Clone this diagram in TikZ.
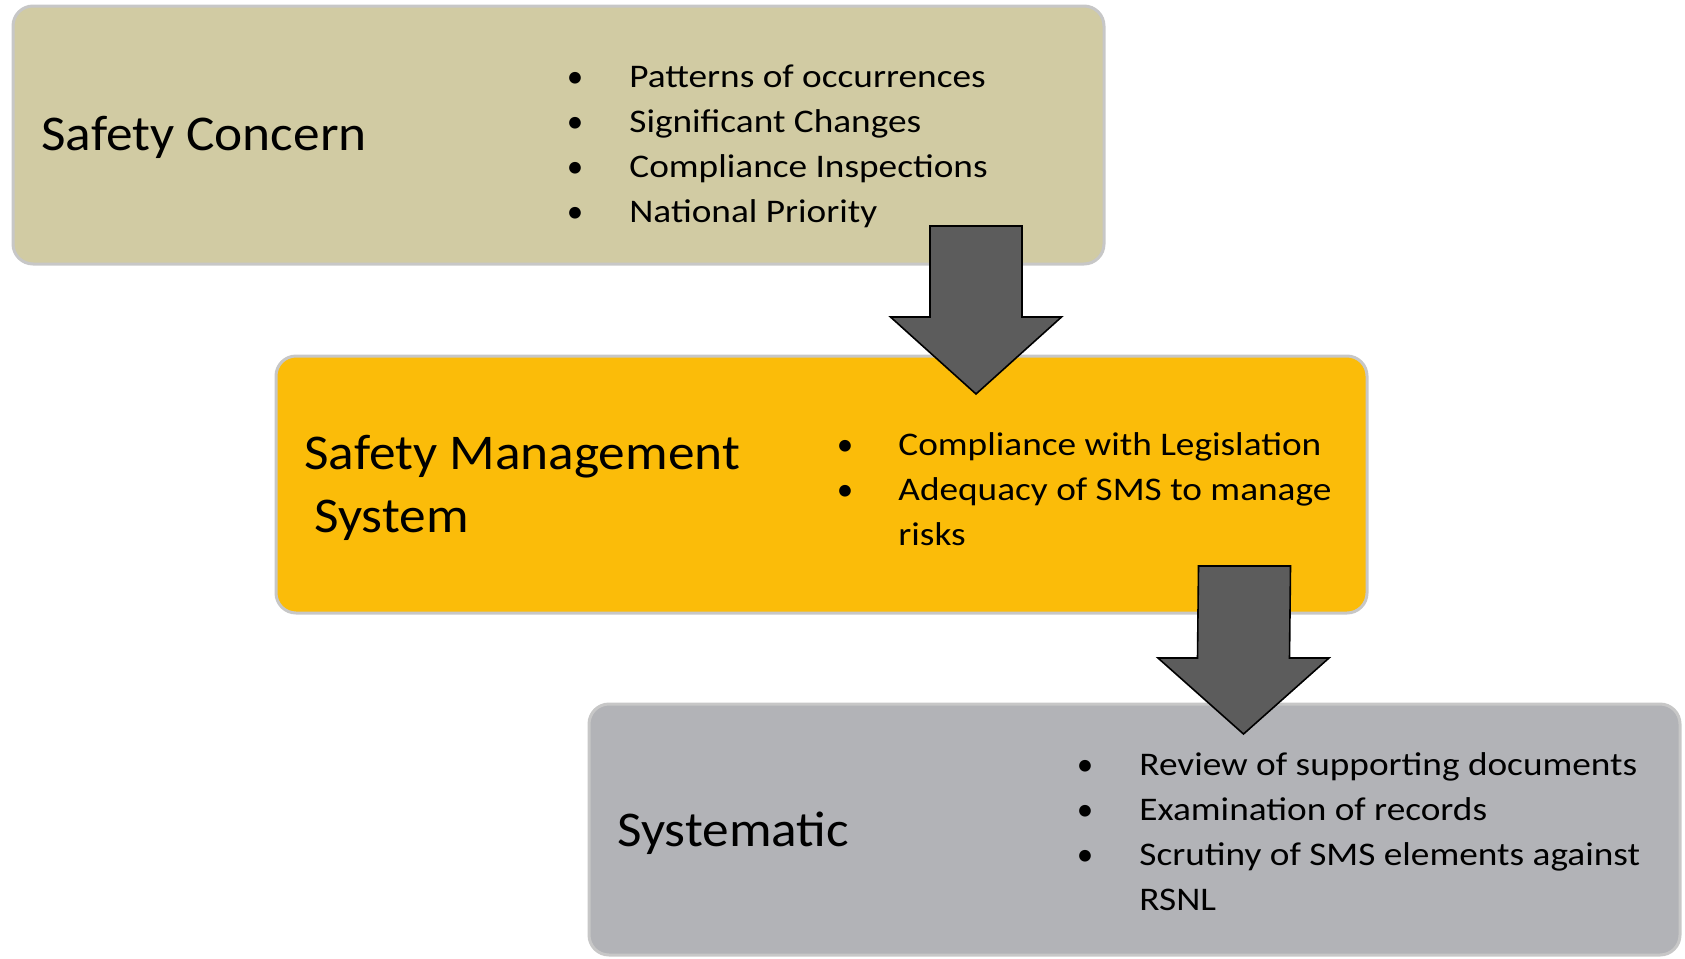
\documentclass[tikz,border=0pt]{standalone}
\usepackage{fontspec}
\setmainfont{Carlito}
\newfontfamily\headfont[FakeStretch=1.067]{Carlito}
\newfontfamily\itemfont[FakeStretch=1.13]{Carlito}
\usetikzlibrary{calc}
\usetikzlibrary{positioning}
\definecolor{tanbox}{RGB}{209,203,163}
\definecolor{ambox}{RGB}{251,188,9}
\definecolor{greybox}{RGB}{178,179,183}
\definecolor{arrowgrey}{RGB}{92,92,92}

\begin{document}
\begin{tikzpicture}[x=0.5pt,y=-0.5pt]
  \tikzset{
    box/.style={rounded corners=10pt,draw=black!22,line width=1.5pt,minimum width=545.5pt,inner sep=0pt,outer sep=0pt,anchor=north west},
    head/.style={font=\headfont\fontsize{25}{31.5}\selectfont,inner sep=0pt,align=left},
    item/.style={font=\itemfont\fontsize{16.5}{22.5}\selectfont,anchor=base west,inner sep=0pt},
    dot/.style={font=\fontsize{16.5}{22.5}\selectfont,anchor=base,inner sep=0pt},
    flowarrow/.style={draw=black,line width=0.8pt,fill=arrowgrey,line join=miter},
  }
  \useasboundingbox (0,0) rectangle (1685,958);
  %BOXES
  \node[box,fill=tanbox,minimum height=129pt] (sc) at (13,6) {};
  \node[box,fill=ambox,minimum height=128.5pt] (sms) at (276,356) {};
  \node[box,fill=greybox,minimum height=125.5pt] (sys) at (589,704) {};

  %HEADINGS
  \node[head,anchor=base west] (sch) at (41,150) {Safety Concern};
  \node[head,anchor=west] (smsh) at (304,488) {Safety Management\\\hspace{0.2em}System};
  \node[head,anchor=base west] (sysh) at (617,846) {Systematic};

  %ITEMS SAFETY CONCERN
  \foreach \t [count=\i] in {Patterns of occurrences,Significant Changes,Compliance Inspections,National Priority}{
    \node[dot] (scd\i) at (575,42+45*\i) {\textbullet};
    \node[item] (sct\i) at (629,42+45*\i) {\t};
  }
  %ITEMS SMS
  \foreach \t [count=\i] in {Compliance with Legislation,Adequacy of SMS to manage}{
    \node[dot] (smsd\i) at (845,410+45*\i) {\textbullet};
    \node[item] (smst\i) at (898,410+45*\i) {\t};
  }
  \node[item,below=22.5pt of smst2.base west,anchor=base west] (smst3) {risks};
  %ITEMS SYSTEMATIC
  \foreach \t [count=\i] in {Review of supporting documents,Examination of records,Scrutiny of SMS elements against}{
    \node[dot] (sysd\i) at (1085,730+45*\i) {\textbullet};
    \node[item] (syst\i) at (1139,730+45*\i) {\t};
  }
  \node[item,below=22.5pt of syst3.base west,anchor=base west] (syst4) {RSNL};

  %ARROW 1
  \coordinate (a1s) at ($(sc.south east)+(-128,-38)$);
  \coordinate (a1e) at ($(sms.north west)+(700,38)$);
  \draw[flowarrow] ($(a1s)+(-46,0)$) -- ($(a1s)+(46,0)$) -- ($(a1e)+(46,-77)$) -- ($(a1e)+(85.5,-77)$)
    -- (a1e) -- ($(a1e)+(-85.5,-77)$) -- ($(a1e)+(-46,-77)$) -- cycle;
  %ARROW 2
  \coordinate (a2s) at ($(sms.south east)+(-122.5,-47)$);
  \coordinate (a2e) at ($(sys.north west)+(654.5,30)$);
  \draw[flowarrow] ($(a2s)+(-46,0)$) -- ($(a2s)+(46,0)$) -- ($(a2e)+(46,-76)$) -- ($(a2e)+(85.5,-76)$)
    -- (a2e) -- ($(a2e)+(-85.5,-76)$) -- ($(a2e)+(-46,-76)$) -- cycle;
\end{tikzpicture}
\end{document}
